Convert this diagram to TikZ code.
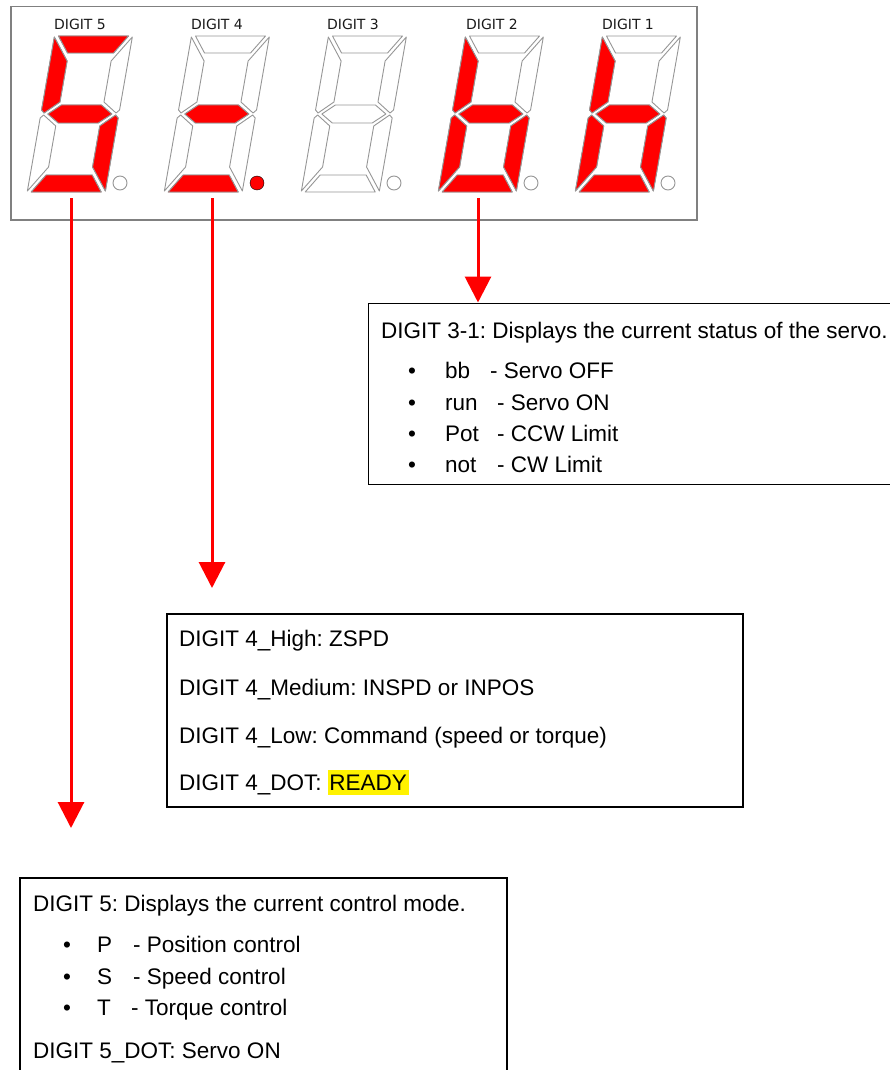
\documentclass[tikz,border=0pt]{standalone}
\usepackage{fontspec}
\setmainfont{Liberation Sans}
\newfontfamily\labelfont{DejaVu Sans}
\usetikzlibrary{arrows.meta,positioning}
\frenchspacing

\definecolor{ledred}{RGB}{255,0,0}
\definecolor{segline}{RGB}{150,150,150}
\definecolor{panelline}{RGB}{128,128,128}

% segments of one digit (unslanted, y downwards)
\def\sega{(4,0) -- (74,0) -- (62,17) -- (16,17) -- cycle}
\def\segb{(78,1) -- (61,25) -- (61,66) -- (75,77) -- (78,74) -- cycle}
\def\segc{(78,155) -- (61,131) -- (61,90) -- (75,79) -- (78,82) -- cycle}
\def\segd{(4,156) -- (74,156) -- (62,139) -- (16,139) -- cycle}
\def\sege{(0,155) -- (17,131) -- (17,90) -- (3,79) -- (0,82) -- cycle}
\def\segf{(0,1) -- (17,25) -- (17,66) -- (3,77) -- (0,74) -- cycle}
\def\segg{(7,78) -- (19,69) -- (59,69) -- (71,78) -- (59,87) -- (19,87) -- cycle}
\def\segnone{(0,0)}

\newcommand{\sevenseg}[3]{%
  \begin{scope}[shift={(#1,36)}, xslant=0.175]
    \foreach \s in {a,b,c,d,e,f,g}{
      \edef\segpath{\csname seg\s\endcsname}
      \draw[segoff] \segpath;}
    \foreach \s in {#2}{
      \edef\segpath{\csname seg\s\endcsname}
      \draw[segon] \segpath;}
  \end{scope}
  \draw[#3] (#1+65.5,183) circle (7);
}

\newcommand{\hl}[1]{{\setlength{\fboxsep}{1.5pt}\colorbox{yellow}{\rule[-3.5pt]{0pt}{22pt}#1}}}

\tikzset{
  segoff/.style={draw=segline, fill=white, line width=0.9pt, line join=round},
  segon/.style={draw=segline, fill=ledred, line width=0.9pt, line join=round},
  dotoff/.style={draw=segline, fill=white, line width=0.9pt},
  doton/.style={fill=ledred},
  digitlabel/.style={font=\labelfont\fontsize{14}{16}\selectfont, text=black!90, inner sep=0pt},
  pointer/.style={draw=ledred, line width=3pt, -{Triangle[width=26pt,length=26pt]}},
  infobox/.style={draw=black, line width=1.5pt, anchor=north west, inner sep=0pt},
  txt/.style={anchor=base west, inner sep=0pt, font=\fontsize{22.5}{27}\selectfont},
}

\begin{document}
\begin{tikzpicture}[x=1pt,y=-1pt]
\useasboundingbox (0,0) rectangle (890,1070);
\clip (0,0) rectangle (890,1070);

% Display panel
\node[draw=panelline, line width=1.5pt, anchor=north west, inner sep=0pt,
      minimum width=686pt, minimum height=213pt] (panel) at (10,6) {};

% Digits
\sevenseg{54.5}{a,f,g,c,d}{dotoff}
\sevenseg{191.5}{g,d}{doton}
\sevenseg{328.5}{none}{dotoff}
\sevenseg{465.5}{f,g,e,c,d}{dotoff}
\sevenseg{602.5}{f,g,e,c,d}{dotoff}

\node[digitlabel] (lab5) at (80,24) {DIGIT 5};
\node[digitlabel] (lab4) at (217,24) {DIGIT 4};
\node[digitlabel] (lab3) at (353,24) {DIGIT 3};
\node[digitlabel] (lab2) at (492,24) {DIGIT 2};
\node[digitlabel] (lab1) at (628,24) {DIGIT 1};

% Boxes
\node[infobox, minimum width=540pt, minimum height=181pt] (statusbox) at (367.5,302.5) {};
\node[infobox, minimum width=576pt, minimum height=193pt] (dotbox) at (166,613) {};
\node[infobox, minimum width=487pt, minimum height=220pt] (modebox) at (19,877) {};

% Arrows
\coordinate (d5) at (71,198);
\coordinate (tip5) at (71,828);
\coordinate (d4) at (212,198);
\coordinate (tip4) at (212,588);
\coordinate (d2) at (478,198);
\draw[pointer] (d5) -- (tip5);
\draw[pointer] (d4) -- (tip4);
\draw[pointer] (d2) -- (d2 |- statusbox.north);

% Digit 3-1
\node[txt] (statushead) at (381,338) {DIGIT 3-1: Displays the current status of the servo.};
\foreach \sym/\what/\dx/\y [count=\i] in {bb/Servo OFF/490/378, run/Servo ON/497/410,
    Pot/CCW Limit/497/441, not/CW Limit/497/472}{
  \node[txt] (sb\i) at (408,\y) {•};
  \node[txt] (sc\i) at (445,\y) {\sym};
  \node[txt] (sd\i) at (\dx,\y) {- \what};
}

% Digit 4
\node[txt] (high) at (179,646) {DIGIT 4\_High: ZSPD};
\node[txt] (medium) at (179,695) {DIGIT 4\_Medium: INSPD or INPOS};
\node[txt] (low) at (179,743) {DIGIT 4\_Low: Command (speed or torque)};
\node[txt] (dotfour) at (179,790) {DIGIT 4\_DOT: \hl{READY}};

% Digit 5
\node[txt] (modehead) at (33,911) {DIGIT 5: Displays the current control mode.};
\foreach \sym/\what/\dx/\y [count=\i] in {P/Position control/133/952,
    S/Speed control/133/984, T/Torque control/131/1015}{
  \node[txt] (mb\i) at (63,\y) {•};
  \node[txt] (mc\i) at (97,\y) {\sym};
  \node[txt] (md\i) at (\dx,\y) {- \what};
}
\node[txt] (modedot) at (33,1058) {DIGIT 5\_DOT: Servo ON};

\end{tikzpicture}
\end{document}
